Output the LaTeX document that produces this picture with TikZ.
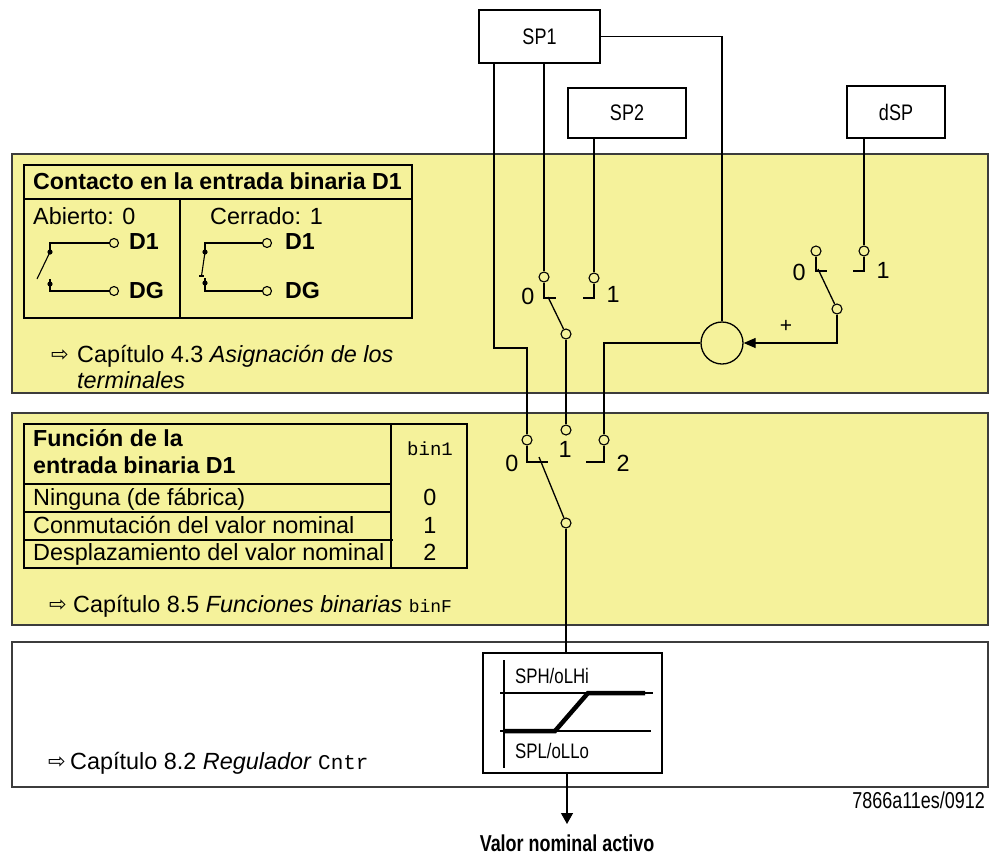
\documentclass[tikz,border=0pt]{standalone}
\usepackage{fontspec}
\setmainfont{Liberation Sans}
\newfontfamily\narrowfont[FakeStretch=0.78]{Liberation Sans}
\newfontfamily\condfont[FakeStretch=0.8]{Liberation Sans}
\newfontfamily\arrowfont{DejaVu Sans}
\newfontfamily\codefont{Liberation Mono}
\usetikzlibrary{arrows.meta}
\definecolor{panelyellow}{RGB}{245,242,155}
\definecolor{panelline}{RGB}{60,60,60}
\tikzset{
  panel/.style={draw=panelline, line width=1.6pt},
  wire/.style={line width=1.3pt},
  thinline/.style={line width=1.1pt},
  contact/.style={circle, draw, fill=panelyellow, minimum size=10pt, inner sep=0pt, line width=1.1pt},
  term/.style={circle, draw, fill=panelyellow, minimum size=9pt, inner sep=0pt, line width=1.1pt},
  sbox/.style={draw, fill=white, line width=1.3pt, inner sep=0pt, font=\condfont\fontsize{22.5}{26}\selectfont},
  txt/.style={inner sep=0pt, font=\fontsize{23.4}{27}\selectfont},
  btxt/.style={inner sep=0pt, font=\bfseries\fontsize{23.2}{27}\selectfont},
  ctxt/.style={inner sep=0pt, font=\condfont\fontsize{21}{25}\selectfont},
  codetxt/.style={inner sep=0pt, font=\codefont\fontsize{19}{23}\selectfont},
  arr/.style={inner sep=0pt, font=\arrowfont\fontsize{21}{25}\selectfont},
  tip/.style={-{Triangle[length=12pt,width=10pt]}},
}
\begin{document}
\begin{tikzpicture}[x=1pt,y=-1pt]
\useasboundingbox (0,0) rectangle (1004,854);

% ---------- panels ----------
\draw[panel, fill=panelyellow] (12,154) rectangle (988,393);
\draw[panel, fill=panelyellow] (12,413) rectangle (988,625);
\draw[panel, fill=white] (12,642) rectangle (988,787);

% ---------- setpoint boxes ----------
\node[sbox, minimum width=121pt, minimum height=53pt] (sp1) at (539.5,36.5) {SP1};
\node[sbox, minimum width=118pt, minimum height=50pt] (sp2) at (627,113) {SP2};
\node[sbox, minimum width=98pt, minimum height=52pt] (dsp) at (896,112) {dSP};

% ---------- panel 1: contact table ----------
\draw[thinline] (24,165) rectangle (412,318);
\draw[thinline] (24,199) -- (412,199);
\draw[thinline] (180,199) -- (180,318);
\node[btxt, anchor=base west] (hdr1) at (33,189) {Contacto en la entrada binaria D1};
\node[txt, anchor=base west] (open) at (33,224) {Abierto: 0};
\node[txt, anchor=base west] (closed) at (210,224) {Cerrado: 1};

% open contact
\node[term] (d1o) at (114,243) {};
\node[term] (dgo) at (114,291) {};
\coordinate (o1) at (50,252);
\coordinate (o2) at (50,284);
\draw[thinline] (d1o) -- (50,243) -- (o1);
\fill (o1) circle (2.6);
\draw[thinline] (o1) -- (37,279);
\draw[thinline] (50,279) -- (o2) -- (50,291) -- (dgo);
\fill (o2) circle (2.6);
\node[btxt, anchor=base west] (l1) at (129,249) {D1};
\node[btxt, anchor=base west] (l2) at (129,298) {DG};

% closed contact
\node[term] (d1c) at (267,243) {};
\node[term] (dgc) at (267,291) {};
\coordinate (k1) at (205,252);
\coordinate (k2) at (205,283);
\draw[thinline] (d1c) -- (205,243) -- (k1);
\fill (k1) circle (2.6);
\draw[thinline] (k1) -- (201.5,276);
\draw[thinline] (199,276) -- (204,276);
\draw[thinline] (205,278) -- (k2) -- (205,291) -- (dgc);
\fill (k2) circle (2.6);
\node[btxt, anchor=base west] (l3) at (285,249) {D1};
\node[btxt, anchor=base west] (l4) at (285,298) {DG};

\node[arr, anchor=base west] (ar1) at (51,361) {⇨};
\node[txt, anchor=base west] (ch1) at (77,362) {Capítulo 4.3 \textit{Asignación de los}};
\node[txt, anchor=base west] (ch1b) at (77,388) {\textit{terminales}};

% ---------- panel 2: function table ----------
\draw[thinline] (24,424) rectangle (467,568);
\draw[thinline] (391,424) -- (391,568);
\draw[thinline] (24,484) -- (391,484);
\draw[thinline] (24,512) -- (391,512);
\draw[thinline] (24,540) -- (393,540);
\node[btxt, anchor=base west] (f1) at (33,446) {Función de la};
\node[btxt, anchor=base west] (f2) at (33,473) {entrada binaria D1};
\node[codetxt] (bin1) at (430,449) {bin1};
\node[txt, anchor=base west] (r0) at (33,505) {Ninguna (de fábrica)};
\node[txt, anchor=base west] (r1) at (33,533) {Conmutación del valor nominal};
\node[txt, anchor=base west] (r2) at (33,560) {Desplazamiento del valor nominal};
\node[txt, anchor=base] (v0) at (430,505) {0};
\node[txt, anchor=base] (v1) at (430,533) {1};
\node[txt, anchor=base] (v2) at (430,560) {2};
\node[arr, anchor=base west] (ar2) at (49,611) {⇨};
\node[txt, anchor=base west] (ch2) at (73,612) {Capítulo 8.5 \textit{Funciones binarias} {\codefont\fontsize{18}{22}\selectfont binF}};

% ---------- panel 3 ----------
\node[arr, anchor=base west] (ar3) at (48,768) {⇨};
\node[txt, anchor=base west] (ch3) at (70,769) {Capítulo 8.2 \textit{Regulador} {\codefont\fontsize{21}{25}\selectfont Cntr}};

% ---------- switch 1 (SP1 / SP2) ----------
\node[contact] (s1a) at (544,277) {};
\node[contact] (s1b) at (594,278) {};
\node[contact] (s1c) at (566,334) {};
\draw[wire] (sp1.south -| s1a) -- (s1a);
\draw[wire] (sp2.south -| s1b) -- (s1b);
\draw[wire] (s1a) -- (544,298) -- (556,298);
\draw[wire] (s1b) -- (594,298) -- (583,298);
\draw[wire] (548,297) -- (s1c);
\node[txt] (s1l0) at (528,296) {0};
\node[txt] (s1l1) at (613,294) {1};

% ---------- switch dSP ----------
\node[contact] (dA) at (816,251) {};
\node[contact] (dB) at (864,251) {};
\node[contact] (dC) at (837,309) {};
\draw[wire] (dsp.south -| dB) -- (dB);
\draw[wire] (dA) -- (816,271) -- (827,271);
\draw[wire] (dB) -- (864,271) -- (853,271);
\draw[wire] (818,269) -- (dC);
\node[txt] (dl0) at (799,272) {0};
\node[txt] (dl1) at (883,270) {1};

% ---------- summing point ----------
\node[circle, draw, fill=panelyellow, line width=1.3pt, minimum size=42pt, inner sep=0pt] (sum) at (722,343) {};
\draw[wire] (sp1.east) -| (sum);
\draw[wire, tip] (dC) |- (sum);
\node[txt, font=\fontsize{21}{25}\selectfont] (plus) at (786,326) {+};

% ---------- switch 2 (panel 2) ----------
\node[contact] (c2a) at (527,440) {};
\node[contact] (c2b) at (566,430) {};
\node[contact] (c2c) at (604,440) {};
\node[contact] (c2d) at (566,523) {};
\coordinate (bendA) at (494,348);
\draw[wire] (sp1.south -| bendA) -- (bendA) -| (c2a);
\draw[wire] (s1c) -- (c2b);
\draw[wire] (sum) -| (c2c);
\draw[wire] (c2a) -- (527,462) -- (548,462);
\draw[wire] (c2c) -- (604,462) -- (586,462);
\draw[wire] (539,457) -- (c2d);
\node[txt] (c2l0) at (512,463) {0};
\node[txt] (c2l1) at (565,449) {1};
\node[txt] (c2l2) at (623,463) {2};

% ---------- limiter chart ----------
\node[draw, fill=white, line width=1.3pt, minimum width=179pt, minimum height=120pt, inner sep=0pt] (chart) at (572.5,713) {};
\draw[thinline] (504,660) -- (504,768);
\draw[thinline] (500,693) -- (653,693);
\draw[thinline] (500,731) -- (651,731);
\draw[line width=4.5pt] (505,731) -- (555,731) -- (588,693) -- (645,693);
\node[ctxt, anchor=base west] (sph) at (515,683) {SPH/oLHi};
\node[ctxt, anchor=base west] (spl) at (515,758) {SPL/oLLo};
\draw[wire] (c2d) -- (c2d |- chart.north);
\coordinate (outtip) at (567,824);
\draw[wire, -{Triangle[length=11pt,width=12pt]}] (chart.south -| outtip) -- (outtip);

\node[inner sep=0pt, anchor=base east, font=\narrowfont\fontsize{23}{27}\selectfont] (code) at (985,808) {7866a11es/0912};
\node[inner sep=0pt, anchor=base, font=\narrowfont\bfseries\fontsize{23}{27}\selectfont] (valor) at (567,851) {Valor nominal activo};
\end{tikzpicture}
\end{document}
